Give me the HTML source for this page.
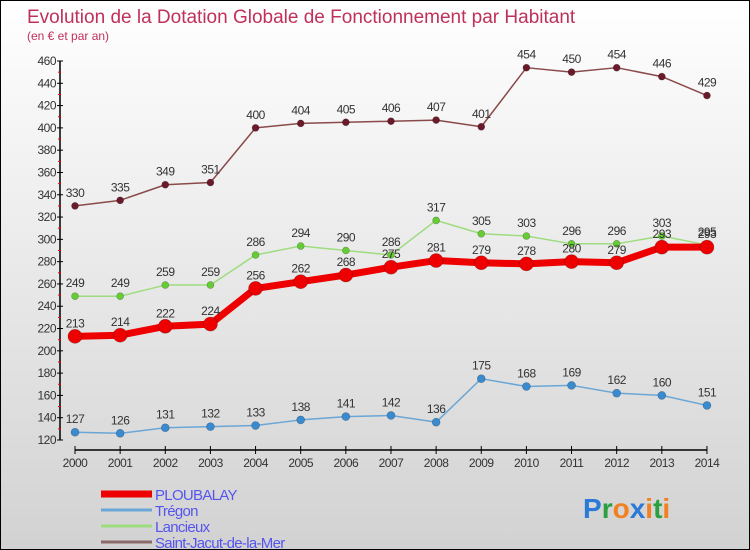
<!DOCTYPE html>
<html><head><meta charset="utf-8"><style>
body{margin:0;}
#wrap{width:748px;height:548px;border:1px solid #000;background:linear-gradient(#ffffff,#d2d2d2);position:relative;overflow:hidden;font-family:"Liberation Sans",sans-serif;}
</style></head><body>
<div id="wrap">
<svg id="svg" width="748" height="548"></svg>
</div>
<script>
const years=["2000","2001","2002","2003","2004","2005","2006","2007","2008","2009","2010","2011","2012","2013","2014"];
const ploubalay=[213,214,222,224,256,262,268,275,281,279,278,280,279,293,293];
const tregon=[127,126,131,132,133,138,141,142,136,175,168,169,162,160,151];
const lancieux=[249,249,259,259,286,294,290,286,317,305,303,296,296,303,295];
const stjacut=[330,335,349,351,400,404,405,406,407,401,454,450,454,446,429];
const yTicks=[120,140,160,180,200,220,240,260,280,300,320,340,360,380,400,420,440,460];
const NS="http://www.w3.org/2000/svg";
const svg=document.getElementById('svg');
function X(i){return 74+i*45.14;}
function Y(v){return 439-(v-120)*(379/340);}
function el(t,a,p){const e=document.createElementNS(NS,t);for(const k in a)e.setAttribute(k,a[k]);(p||svg).appendChild(e);return e;}
let t=el('text',{x:26,y:22,'font-size':19,fill:'#c0305a'});t.textContent='Evolution de la Dotation Globale de Fonctionnement par Habitant';

t=el('text',{x:26,y:39,'font-size':12,fill:'#c0305a'});t.textContent='(en € et par an)';

// y axis
let a=el('line',{x1:59,y1:Y(460),x2:59,y2:Y(120),stroke:'#000','stroke-width':1.5});

yTicks.forEach((v,i)=>{el('line',{x1:56,y1:Y(v),x2:62,y2:Y(v),stroke:'#000'});
 if(i<yTicks.length-1)el('line',{x1:57,y1:Y(v+10),x2:60,y2:Y(v+10),stroke:'#e00'});
 const l=el('text',{x:55,y:Y(v)+4,'font-size':12,fill:'#333','text-anchor':'end','letter-spacing':'-0.5'});l.textContent=v;
 });
a=el('line',{x1:74,y1:449,x2:X(14),y2:449,stroke:'#000','stroke-width':1.5});

years.forEach((y,i)=>{el('line',{x1:X(i),y1:445,x2:X(i),y2:453,stroke:'#000'});
 const l=el('text',{x:X(i),y:466,'font-size':12,fill:'#333','text-anchor':'middle','letter-spacing':'-0.5'});l.textContent=y;
 });
function series(data,color,w,r,dot,name){
 const g=el('g',{});
 el('polyline',{points:data.map((v,i)=>X(i)+','+Y(v)).join(' '),fill:'none',stroke:color,'stroke-width':w,'stroke-linejoin':'round'},g);
 data.forEach((v,i)=>{const c=el('circle',{cx:X(i),cy:Y(v),r:r,fill:dot,stroke:'rgba(0,0,0,0.3)','stroke-width':0.6},g);
  
  const l=el('text',{x:X(i),y:Y(v)-9,'font-size':12,fill:'#333','text-anchor':'middle','letter-spacing':'-0.5'},g);l.textContent=v;
  });
}
series(tregon,'#6aa6d6',1.5,4,'#3a8ad0','tregon');
series(stjacut,'#8a4a4a',1.5,3.5,'#6a1a2a','saint-jacut');
series(lancieux,'#9edc80',1.5,3.5,'#66cc33','lancieux');
series(ploubalay,'#ee0000',7,7,'#ee0000','ploubalay');
const leg=[['PLOUBALAY','#ee0000',7],['Trégon','#6aa6d6',3],['Lancieux','#9edc80',3],['Saint-Jacut-de-la-Mer','#8a6a6a',3]];
leg.forEach((d,i)=>{const g=el('g',{});
 const yy=493+i*16;el('line',{x1:100,y1:yy,x2:151,y2:yy,stroke:d[1],'stroke-width':d[2]},g);
 const l=el('text',{x:154,y:yy+6,'font-size':15,fill:'#5555ee','letter-spacing':'-0.7'},g);l.textContent=d[0];});
const lg=el('text',{x:582,y:517,'font-size':28,'font-weight':'bold','font-family':'"Liberation Sans",sans-serif'});

[['P','#2a7ad8'],['r','#2aa040'],['o','#f08020'],['x','#2a7ad8'],['i','#f08020'],['t','#2aa040'],['i','#f08020']].forEach(c=>{const s=el('tspan',{fill:c[1]},lg);s.textContent=c[0];});
</script>
</body></html>
